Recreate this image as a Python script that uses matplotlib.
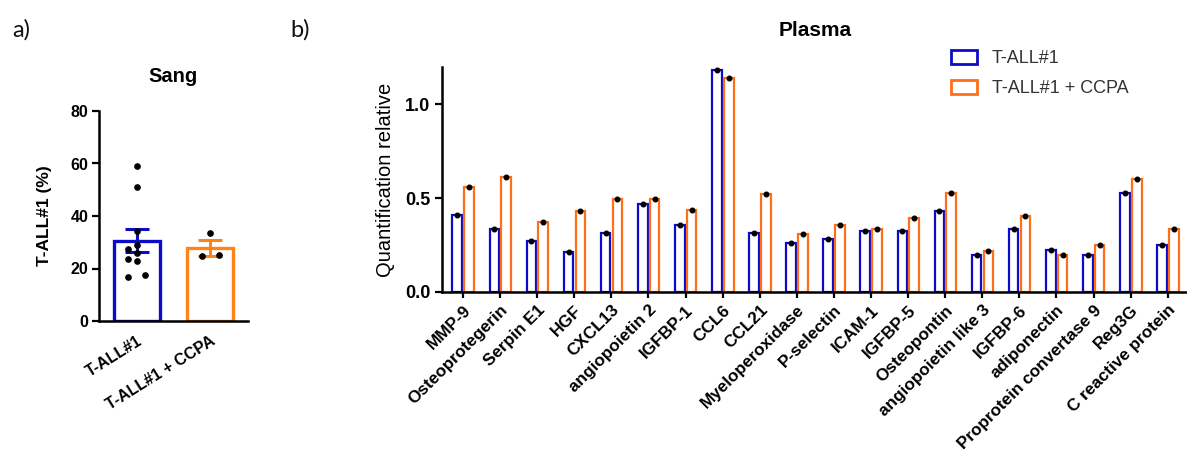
import matplotlib
matplotlib.use("Agg")
import matplotlib.pyplot as plt
from matplotlib.patches import Patch

# panel a: blood (Sang)
groups_a = ["T-ALL#1", "T-ALL#1 + CCPA"]
means_a = [30.5, 27.8]
sems_a = [4.4, 2.9]
pts_ctrl = [59.0, 51.0, 34.2, 28.8, 27.3, 26.0, 23.7, 22.9, 17.4, 16.6]
pts_ctrl_col = [0, 0, 0, 0, -1, 0, -1, 0, 1, -1]   # scatter column
pts_ccpa = [33.5, 24.8, 25.0]
pts_ccpa_col = [0, -1, 1]

# panel b: plasma
proteins = ["MMP-9", "Osteoprotegerin", "Serpin E1", "HGF", "CXCL13",
            "angiopoietin 2", "IGFBP-1", "CCL6", "CCL21", "Myeloperoxidase",
            "P-selectin", "ICAM-1", "IGFBP-5", "Osteopontin",
            "angiopoietin like 3", "IGFBP-6", "adiponectin",
            "Proprotein convertase 9", "Reg3G", "C reactive protein"]
ctrl = [0.41, 0.337, 0.272, 0.211, 0.316, 0.47, 0.357, 1.184, 0.314, 0.259,
        0.284, 0.327, 0.325, 0.433, 0.197, 0.334, 0.224, 0.199, 0.526, 0.252]
ccpa = [0.56, 0.611, 0.373, 0.433, 0.494, 0.495, 0.435, 1.142, 0.524, 0.309,
        0.357, 0.337, 0.396, 0.526, 0.217, 0.403, 0.200, 0.249, 0.604, 0.336]

BLUE = "#0C0CC8"
ORANGE_A = "#FF8418"
ORANGE_B = "#FF6F1A"
FONT = "Liberation Sans"

plt.rcParams["font.family"] = FONT
W, H = 1187, 454
fig = plt.figure(figsize=(W / 100, H / 100), dpi=100)

# ---------- panel a ----------
axa = fig.add_axes([99.3 / W, 1 - 321 / H, (247.7 - 99.3) / W, (321 - 111) / H])
cols = [BLUE, ORANGE_A]
for i in range(2):
    axa.bar(i, means_a[i], width=0.62, facecolor="white", edgecolor=cols[i],
            linewidth=2.4, zorder=2)
    axa.errorbar(i, means_a[i], yerr=sems_a[i], color=cols[i], capsize=8.5,
                 elinewidth=2.2, capthick=2.2, zorder=3)
for pts, cc, i in [(pts_ctrl, pts_ctrl_col, 0), (pts_ccpa, pts_ccpa_col, 1)]:
    xs = [i + 0.115 * c for c in cc]
    axa.plot(xs, pts, "o", color="black", ms=3.8, zorder=4)

axa.set_xlim(-0.51, 1.51)
axa.set_ylim(0, 80)
axa.set_yticks([0, 20, 40, 60, 80])
axa.set_xticks([0, 1])
axa.set_xticklabels(groups_a, rotation=32, ha="right", rotation_mode="anchor",
                    fontsize=11.5, fontweight="bold")
axa.tick_params(axis="x", length=0, pad=9)
axa.tick_params(axis="y", length=5, width=1.6, labelsize=11.5, pad=3)
for lab in axa.get_yticklabels():
    lab.set_fontweight("bold")
axa.set_ylabel("T-ALL#1 (%)", fontsize=12.5, fontweight="bold", labelpad=13)
for s in ["top", "right"]:
    axa.spines[s].set_visible(False)
for s in ["left", "bottom"]:
    axa.spines[s].set_linewidth(1.8)
fig.text(173.5 / W, 1 - 77 / H, "Sang", ha="center", va="center",
         fontsize=14.5, fontweight="bold")

# ---------- panel b ----------
axb = fig.add_axes([441.7 / W, 1 - 292 / H, (W - 441.7) / W, (292 - 67) / H])
x = list(range(len(proteins)))
bw = 0.26
xb = [v - 0.155 for v in x]
xo = [v + 0.165 for v in x]
axb.bar(xb, ctrl, width=bw, facecolor="white", edgecolor=BLUE, linewidth=1.6,
        zorder=2)
axb.bar(xo, ccpa, width=bw, facecolor="white", edgecolor=ORANGE_B,
        linewidth=1.6, zorder=2)
axb.plot(xb, ctrl, "o", color="black", ms=3.3, zorder=4)
axb.plot(xo, ccpa, "o", color="black", ms=3.3, zorder=4)

axb.set_xlim(-0.574, 19.52)
axb.set_ylim(0, 1.2)
axb.set_yticks([0.0, 0.5, 1.0])
axb.set_yticklabels(["0.0", "0.5", "1.0"], fontweight="bold")
axb.set_xticks(x)
axb.set_xticklabels(proteins, rotation=45, ha="right", rotation_mode="anchor",
                    fontsize=12.3, fontweight="bold")
axb.tick_params(axis="x", length=4.5, width=1.6, pad=3)
axb.tick_params(axis="y", length=5, width=1.6, labelsize=13, pad=3)
axb.set_ylabel("Quantification relative", fontsize=14.5, labelpad=7)
for s in ["top", "right"]:
    axb.spines[s].set_visible(False)
for s in ["left", "bottom"]:
    axb.spines[s].set_linewidth(1.8)
fig.text(815 / W, 1 - 30 / H, "Plasma", ha="center", va="center",
         fontsize=15, fontweight="bold")

handles = [Patch(facecolor="white", edgecolor=BLUE, linewidth=2),
           Patch(facecolor="white", edgecolor=ORANGE_B, linewidth=2)]
fig.legend(handles, ["T-ALL#1", "T-ALL#1 + CCPA"], loc="upper left",
           bbox_to_anchor=(951 / W, 1 - 50 / H), frameon=False,
           borderaxespad=0, borderpad=0, handlelength=1.45, handleheight=0.8,
           handletextpad=0.8, labelspacing=0.7,
           prop={"family": FONT, "size": 13}, labelcolor="#333333")

# panel letters
fig.text(12 / W, 1 - 30 / H, "a)", fontsize=17, family="Lato",
         color="#111111", va="center")
fig.text(290 / W, 1 - 30 / H, "b)", fontsize=17, family="Lato",
         color="#111111", va="center")

fig.savefig("out.png", dpi=100)
